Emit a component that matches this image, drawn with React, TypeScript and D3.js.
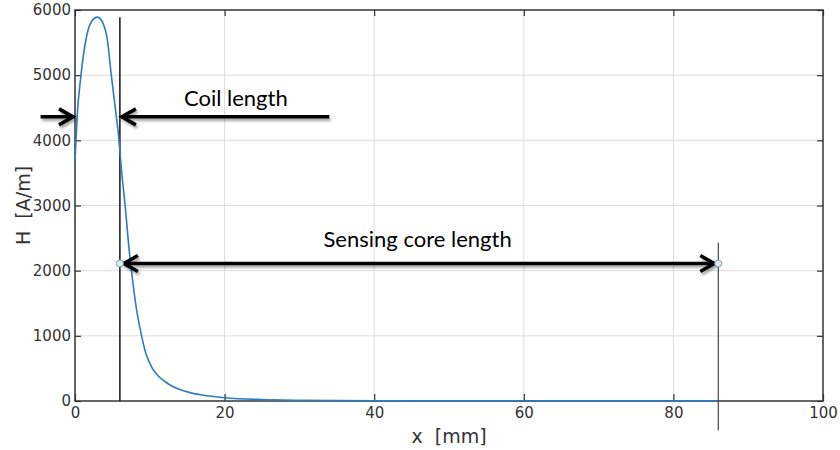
import * as d3 from 'd3';
import React, { useRef, useEffect } from 'react';

// field profile along the core
const xMm = [0, 0.3, 0.8, 1.5, 2.2, 3.0, 3.8, 4.3, 4.85, 5.5, 5.8, 6.2, 6.7, 7.3, 7.65, 8.1, 8.9, 9.5, 10.25, 11, 12, 12.7, 14, 15.5, 17, 20, 25, 30, 40, 50, 60, 70, 80, 86];
const hAm = [3680, 4390, 5000, 5570, 5820, 5890, 5780, 5570, 5000, 4390, 4100, 3560, 3000, 2250, 1900, 1500, 1000, 720, 520, 400, 300, 245, 175, 125, 92, 51, 22, 11, 3, 1, 0, 0, 0, 0];

const xTicks = [0, 20, 40, 60, 80, 100];
const yTicks = [0, 1000, 2000, 3000, 4000, 5000, 6000];

// annotation positions, in data units
const coilEnd = 6;
const sensingEnd = 86;
const coilArrowH = 4360;
const sensingArrowH = 2110;
const coilLineFrom = -4.6;
const coilLineTo = 34;
const coilLineTopH = 5890;
const sensingLineTopH = 2430;
const sensingLineBottomH = -450;

const width = 840;
const height = 450;
const margin = { top: 10, right: 17, bottom: 49, left: 75 };

function FieldChart() {
    const ref = useRef(null);

    useEffect(() => {
        const svg = d3.select(ref.current);
        svg.selectAll('*').remove();

        const w = width - margin.left - margin.right;
        const h = height - margin.top - margin.bottom;

        const x = d3.scaleLinear().domain([0, 100]).range([0, w]);
        const y = d3.scaleLinear().domain([0, 6000]).range([h, 0]);

        const defs = svg.append('defs');
        const f = defs.append('filter').attr('id', 'shadow')
            .attr('x', '-10%').attr('y', '-50%').attr('width', '120%').attr('height', '200%');
        f.append('feDropShadow')
            .attr('dx', 1.5).attr('dy', 2.5).attr('stdDeviation', 1.2)
            .attr('flood-color', '#000').attr('flood-opacity', 0.35);

        const g = svg.append('g')
            .attr('transform', 'translate(' + margin.left + ',' + margin.top + ')');

        // grid
        g.append('g').selectAll('line')
            .data(xTicks.slice(1, -1))
            .enter().append('line')
            .attr('x1', d => x(d)).attr('x2', d => x(d))
            .attr('y1', 0).attr('y2', h)
            .attr('stroke', '#dcdcdc').attr('stroke-width', 1);
        g.append('g').selectAll('line')
            .data(yTicks.slice(1, -1))
            .enter().append('line')
            .attr('x1', 0).attr('x2', w)
            .attr('y1', d => y(d)).attr('y2', d => y(d))
            .attr('stroke', '#dcdcdc').attr('stroke-width', 1);

        // axes, ticks pointing inwards
        const styleAxis = (sel) => {
            sel.select('.domain').remove();
            sel.selectAll('line').attr('stroke', '#333').attr('stroke-width', 1.2);
            sel.selectAll('text')
                .attr('fill', '#333')
                .style('font-family', '"DejaVu Sans", sans-serif')
                .style('font-size', '15px');
        };
        const fmt = d3.format('d');
        g.append('g')
            .attr('transform', 'translate(0,' + h + ')')
            .call(d3.axisBottom(x).tickValues(xTicks).tickFormat(fmt).tickSize(-7).tickPadding(6))
            .call(styleAxis);
        g.append('g')
            .call(d3.axisLeft(y).tickValues(yTicks).tickFormat(fmt).tickSize(-6).tickPadding(4))
            .call(styleAxis);
        g.append('g')
            .attr('transform', 'translate(' + w + ',0)')
            .call(d3.axisRight(y).tickValues(yTicks).tickSize(-6).tickFormat(() => ''))
            .call(styleAxis);
        g.append('g')
            .call(d3.axisTop(x).tickValues(xTicks).tickSize(-6).tickFormat(() => ''))
            .call(styleAxis);

        g.append('rect')
            .attr('x', 0).attr('y', 0).attr('width', w).attr('height', h)
            .attr('fill', 'none').attr('stroke', '#333').attr('stroke-width', 1.5);

        // vertical markers
        g.append('line')
            .attr('x1', x(coilEnd)).attr('x2', x(coilEnd))
            .attr('y1', y(coilLineTopH)).attr('y2', y(0))
            .attr('stroke', '#222').attr('stroke-width', 1.6);
        g.append('line')
            .attr('x1', x(sensingEnd)).attr('x2', x(sensingEnd))
            .attr('y1', y(sensingLineTopH)).attr('y2', y(sensingLineBottomH))
            .attr('stroke', '#333').attr('stroke-width', 1.1);

        // curve
        const line = d3.line()
            .x((d, i) => x(xMm[i]))
            .y(d => y(d))
            .curve(d3.curveMonotoneX);
        g.append('path')
            .datum(hAm)
            .attr('d', line)
            .attr('fill', 'none')
            .attr('stroke', '#2b7cc4')
            .attr('stroke-width', 1.6);

        // arrows
        const arrows = g.append('g').attr('filter', 'url(#shadow)');
        const head = (tx, ty, dir) => {
            const p = d3.path();
            p.moveTo(tx - dir * 14, ty - 8);
            p.lineTo(tx, ty);
            p.lineTo(tx - dir * 14, ty + 8);
            return p.toString();
        };
        const arrowStyle = (sel) => sel
            .attr('fill', 'none').attr('stroke', '#000')
            .attr('stroke-width', 3.5).attr('stroke-linejoin', 'miter');

        const cy = y(coilArrowH);
        arrows.append('line')
            .attr('x1', x(coilLineFrom)).attr('x2', x(0) - 2)
            .attr('y1', cy).attr('y2', cy).call(arrowStyle);
        arrows.append('path').attr('d', head(x(0) - 2, cy, 1)).call(arrowStyle);
        arrows.append('line')
            .attr('x1', x(coilEnd) + 2).attr('x2', x(coilLineTo))
            .attr('y1', cy).attr('y2', cy).call(arrowStyle);
        arrows.append('path').attr('d', head(x(coilEnd) + 2, cy, -1)).call(arrowStyle);

        const sy = y(sensingArrowH);
        arrows.append('line')
            .attr('x1', x(coilEnd) + 4).attr('x2', x(sensingEnd) - 4)
            .attr('y1', sy).attr('y2', sy).call(arrowStyle);
        arrows.append('path').attr('d', head(x(coilEnd) + 4, sy, -1)).call(arrowStyle);
        arrows.append('path').attr('d', head(x(sensingEnd) - 4, sy, 1)).call(arrowStyle);

        g.selectAll('circle.end')
            .data([coilEnd, sensingEnd])
            .enter().append('circle')
            .attr('class', 'end')
            .attr('cx', d => x(d)).attr('cy', sy).attr('r', 3.5)
            .attr('fill', '#dcecef').attr('stroke', '#7f9fa8').attr('stroke-width', 1);

        // annotation labels
        g.append('text')
            .attr('x', x((coilEnd + coilLineTo) / 2 + 1.5))
            .attr('y', cy - 11)
            .attr('text-anchor', 'middle')
            .style('font-family', 'Lato, "Open Sans", sans-serif')
            .style('font-size', '22px')
            .attr('fill', '#000')
            .text('Coil length');
        g.append('text')
            .attr('x', x((coilEnd + sensingEnd) / 2 - 0.2))
            .attr('y', sy - 16.5)
            .attr('text-anchor', 'middle')
            .style('font-family', 'Lato, "Open Sans", sans-serif')
            .style('font-size', '22px')
            .attr('fill', '#000')
            .text('Sensing core length');

        // axis titles
        g.append('text')
            .attr('x', w / 2)
            .attr('y', h + 42)
            .attr('text-anchor', 'middle')
            .style('font-family', '"DejaVu Sans", sans-serif')
            .style('font-size', '19px')
            .attr('fill', '#333')
            .text('x\u00a0 [mm]');
        g.append('text')
            .attr('transform', 'translate(' + (-45) + ',' + y(3000) + ') rotate(-90)')
            .attr('text-anchor', 'middle')
            .style('font-family', '"DejaVu Sans", sans-serif')
            .style('font-size', '19px')
            .attr('fill', '#333')
            .text('H\u00a0 [A/m]');
    }, []);

    return (
        <svg ref={ref} width={width} height={height}
            style={{ position: 'absolute', left: 0, top: 0, background: '#fff' }}>
        </svg>
    );
}

export default function App() {
    return <FieldChart />;
}
